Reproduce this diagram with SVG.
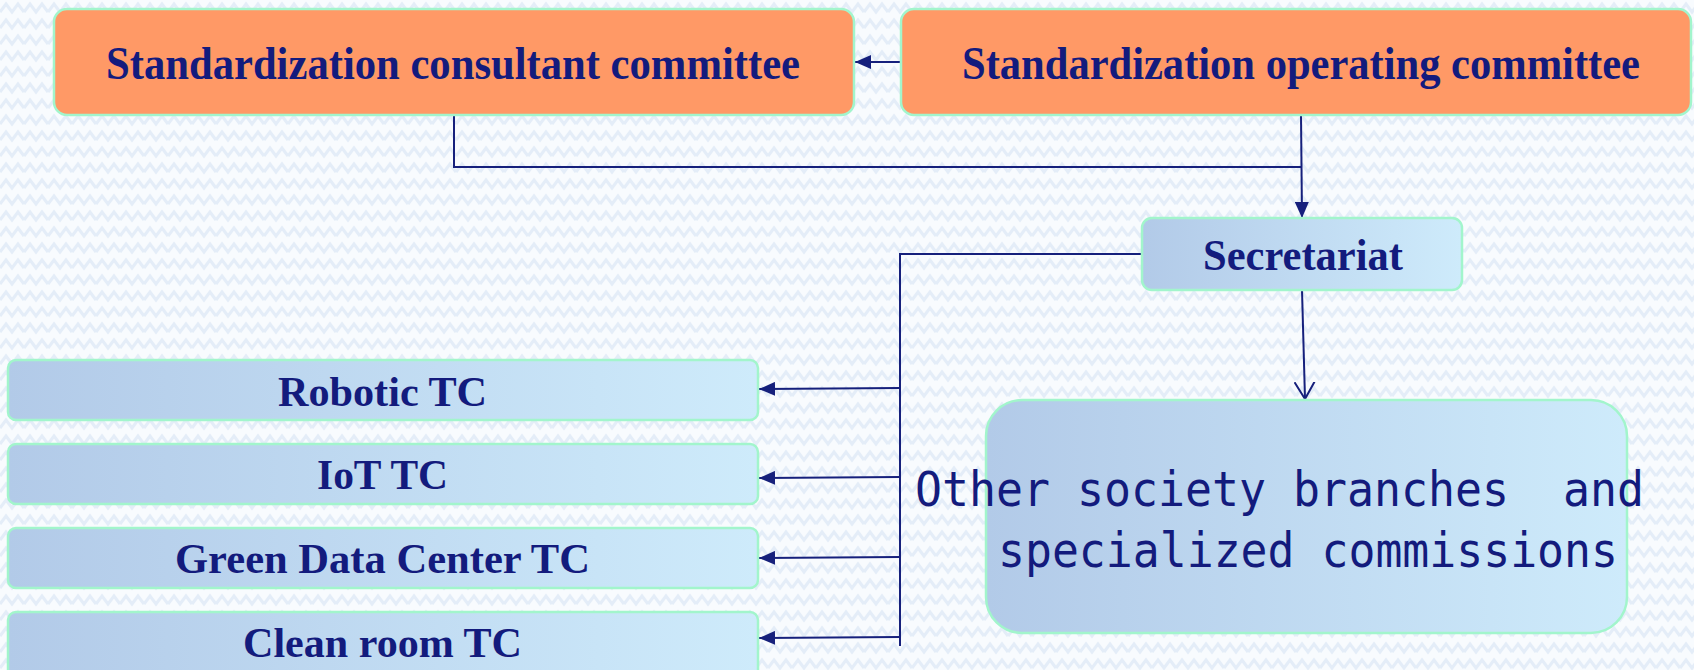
<svg xmlns="http://www.w3.org/2000/svg" width="1694" height="670" viewBox="0 0 1694 670">
<defs>
<pattern id="bg" x="0" y="0" width="24" height="16" patternUnits="userSpaceOnUse">
<rect width="24" height="16" fill="#f8fbfe"/>
<polyline points="0,12 6,4 12,12 18,4 24,12" fill="none" stroke="#e4edf8" stroke-width="3"/>
</pattern>
<linearGradient id="blue" x1="0" y1="0" x2="1" y2="0">
<stop offset="0" stop-color="#b2cae8"/>
<stop offset="1" stop-color="#ceebfb"/>
</linearGradient>
<marker id="arrF" markerUnits="userSpaceOnUse" markerWidth="16" markerHeight="14" refX="16" refY="7" orient="auto">
<path d="M0,0 L16,7 L0,14 z" fill="#16207c"/>
</marker>
<marker id="arrO" markerUnits="userSpaceOnUse" markerWidth="18" markerHeight="22" refX="17" refY="11" orient="auto">
<path d="M0,1 L17,11 L0,21" fill="none" stroke="#16207c" stroke-width="2"/>
</marker>
</defs>
<style>
.orange{fill:#ff9966;stroke:#a2f5cc;stroke-width:2.5}
.blue{fill:url(#blue);stroke:#a2f5cc;stroke-width:2.5}
.lbl{font-family:"Liberation Serif","Times New Roman",serif;font-weight:bold;fill:#131b7d;text-anchor:start}
.mono{font-family:"DejaVu Sans Mono","Liberation Mono",monospace;fill:#131b7d}
.conn{fill:none;stroke:#16207c;stroke-width:2}
</style>
<rect width="1694" height="670" fill="url(#bg)"/>
<g id="connectors">
<line class="conn" x1="901" y1="62" x2="855" y2="62" marker-end="url(#arrF)"/>
<polyline class="conn" points="454,115 454,167 1301,167"/>
<line class="conn" x1="1301" y1="115" x2="1302" y2="218" marker-end="url(#arrF)"/>
<line class="conn" x1="1302" y1="290" x2="1305" y2="399" marker-end="url(#arrO)"/>
<polyline class="conn" points="1142,254 900,254 900,646"/>
<line class="conn" x1="900" y1="388" x2="759" y2="389" marker-end="url(#arrF)"/>
<line class="conn" x1="900" y1="477" x2="759" y2="478" marker-end="url(#arrF)"/>
<line class="conn" x1="900" y1="557" x2="759" y2="558" marker-end="url(#arrF)"/>
<line class="conn" x1="900" y1="637" x2="759" y2="638" marker-end="url(#arrF)"/>
</g>
<g id="consultant">
<rect class="orange" x="54" y="9" width="800" height="106" rx="13"/>
<text class="lbl" x="106" y="79" font-size="46" textLength="694" lengthAdjust="spacingAndGlyphs">Standardization consultant committee</text>
</g>
<g id="operating">
<rect class="orange" x="901" y="9" width="790" height="106" rx="13"/>
<text class="lbl" x="962" y="79" font-size="46" textLength="678" lengthAdjust="spacingAndGlyphs">Standardization operating committee</text>
</g>
<g id="secretariat">
<rect class="blue" x="1142" y="218" width="320" height="72" rx="10"/>
<text class="lbl" x="1203" y="270" font-size="44" textLength="200" lengthAdjust="spacingAndGlyphs">Secretariat</text>
</g>
<g id="robotic">
<rect class="blue" x="8" y="360" width="750" height="60" rx="8"/>
<text class="lbl" x="278" y="406" font-size="42" textLength="209" lengthAdjust="spacingAndGlyphs">Robotic TC</text>
</g>
<g id="iot">
<rect class="blue" x="8" y="444" width="750" height="60" rx="8"/>
<text class="lbl" x="317" y="489" font-size="42" textLength="131" lengthAdjust="spacingAndGlyphs">IoT TC</text>
</g>
<g id="green">
<rect class="blue" x="8" y="528" width="750" height="60" rx="8"/>
<text class="lbl" x="175" y="573" font-size="42" textLength="415" lengthAdjust="spacingAndGlyphs">Green Data Center TC</text>
</g>
<g id="clean">
<rect class="blue" x="8" y="612" width="750" height="72" rx="8"/>
<text class="lbl" x="243" y="657" font-size="42" textLength="279" lengthAdjust="spacingAndGlyphs">Clean room TC</text>
</g>
<g id="other">
<rect class="blue" x="986" y="400" width="641" height="233" rx="36"/>
<text class="mono" x="915" y="506" font-size="48" textLength="729" lengthAdjust="spacingAndGlyphs" xml:space="preserve">Other society branches  and</text>
<text class="mono" x="998" y="567" font-size="48" textLength="620" lengthAdjust="spacingAndGlyphs">specialized commissions</text>
</g>
</svg>
